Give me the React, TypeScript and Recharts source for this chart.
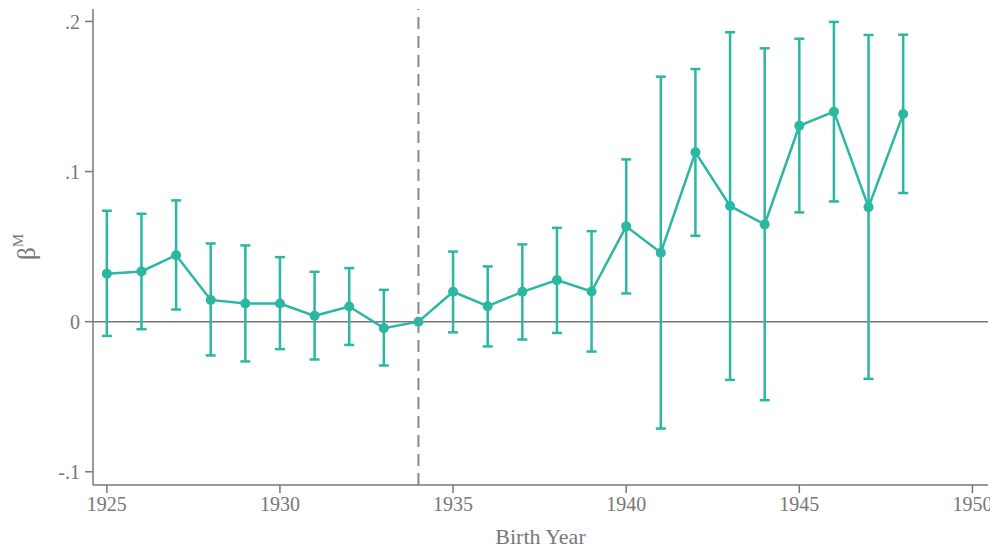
import React from "react"
import {
  LineChart,
  Line,
  XAxis,
  YAxis,
  ErrorBar,
  ReferenceLine,
} from "recharts"

const TEAL = "#2bb7a1"
const AXIS = "#777777"
const FONT = "'Liberation Serif', 'Times New Roman', serif"

const years = [
  1925, 1926, 1927, 1928, 1929, 1930, 1931, 1932, 1933, 1934, 1935, 1936,
  1937, 1938, 1939, 1940, 1941, 1942, 1943, 1944, 1945, 1946, 1947, 1948,
]
const betas = [
  0.032, 0.0335, 0.0443, 0.0145, 0.0121, 0.0121, 0.0039, 0.0101, -0.0043, 0,
  0.0199, 0.0103, 0.0199, 0.0277, 0.0201, 0.0635, 0.0459, 0.1128, 0.0771,
  0.0648, 0.1305, 0.1399, 0.0763, 0.1383,
]
const upperCI = [
  0.0739, 0.0719, 0.0808, 0.0521, 0.0508, 0.043, 0.0332, 0.0357, 0.0212, null,
  0.0467, 0.0368, 0.0515, 0.0625, 0.0603, 0.1081, 0.1632, 0.1683, 0.1928,
  0.1821, 0.1885, 0.1997, 0.191, 0.1912,
]
const lowerCI = [
  -0.0095, -0.005, 0.0081, -0.0225, -0.0265, -0.0183, -0.0252, -0.0155,
  -0.0292, null, -0.0071, -0.0165, -0.0119, -0.0075, -0.0199, 0.0188, -0.0712,
  0.0572, -0.0388, -0.0523, 0.0728, 0.0801, -0.0381, 0.0857,
]
const xTicks = [1925, 1930, 1935, 1940, 1945, 1950]
const yTicks = [-0.1, 0, 0.1, 0.2]

const data = years.map((year, i) => {
  const hi = upperCI[i]
  const lo = lowerCI[i]
  return {
    year,
    beta: betas[i],
    ci: hi == null || lo == null ? null : [betas[i] - lo, hi - betas[i]],
  }
})

const fmtY = (v: number) =>
  v === 0 ? "0" : v.toFixed(1).replace("0.", ".")

function BetaLabel(props: any) {
  const vb = props.viewBox || {}
  const cx = 18
  const cy = (vb.y ?? 0) + (vb.height ?? 0) / 2
  return (
    <text
      x={cx}
      y={cy}
      transform={`rotate(-90, ${cx}, ${cy})`}
      textAnchor="middle"
      dominantBaseline="central"
      fill={AXIS}
      fontFamily={FONT}
      fontSize={25}
    >
      β
      <tspan dy={-8} fontSize={15}>
        M
      </tspan>
    </text>
  )
}

export default function App() {
  return (
    <div style={{ width: 990, height: 544 }}>
      <LineChart
        width={990}
        height={544}
        data={data}
        margin={{ top: 1, right: 10, bottom: 0, left: 0 }}
      >
        <XAxis
          dataKey="year"
          type="number"
          domain={[1924.6, 1950.45]}
          ticks={xTicks}
          allowDataOverflow
          height={67}
          stroke={AXIS}
          strokeWidth={1.5}
          tickSize={8}
          tickMargin={4}
          tick={{ fill: AXIS, fontFamily: FONT, fontSize: 20 }}
          label={{
            value: "Birth Year",
            position: "insideBottom",
            offset: 8,
            fill: AXIS,
            fontFamily: FONT,
            fontSize: 22,
          }}
        />
        <YAxis
          type="number"
          domain={[-0.1088, 0.2083]}
          ticks={yTicks}
          allowDataOverflow
          width={85}
          stroke={AXIS}
          strokeWidth={1.5}
          tickSize={8}
          tickMargin={5}
          tickFormatter={fmtY}
          tick={{ fill: AXIS, fontFamily: FONT, fontSize: 20 }}
          label={<BetaLabel />}
        />
        <ReferenceLine y={0} stroke={AXIS} strokeWidth={1.5} />
        <ReferenceLine
          x={1934}
          stroke="#888888"
          strokeWidth={2}
          strokeDasharray="12 7"
        />
        <Line
          dataKey="beta"
          stroke={TEAL}
          strokeWidth={2.5}
          dot={{ r: 5, fill: TEAL, stroke: "none" }}
          activeDot={false}
          isAnimationActive={false}
        >
          <ErrorBar
            dataKey="ci"
            direction="y"
            width={5}
            stroke={TEAL}
            strokeWidth={2.5}
            isAnimationActive={false}
          />
        </Line>
      </LineChart>
    </div>
  )
}
